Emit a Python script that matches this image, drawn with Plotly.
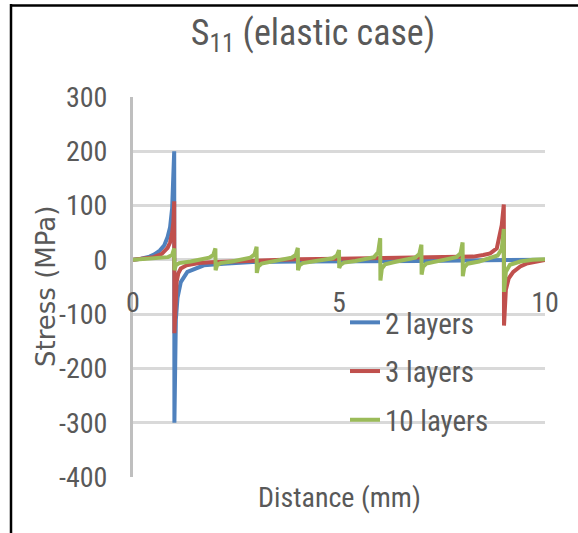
import plotly.graph_objects as go

# ---- data ----
x_2 = [0, 0.2, 0.4, 0.52, 0.65, 0.76, 0.84, 0.9, 0.95, 0.98, 1.0, 1.005, 1.04, 1.08, 1.16, 1.32, 1.72, 2.2, 2.9, 4, 5, 6, 7, 8, 9, 10]
y_2 = [0, 2, 6, 10, 17, 27, 42, 60, 95, 140, 200, -300, -110, -70, -41, -22, -10, -7, -4, -3, -3, -2, -2, -1, -1, 0]

x_3 = [0, 0.3, 0.5, 0.7, 0.84, 0.9, 0.95, 0.98, 1.0, 1.005, 1.03, 1.06, 1.1, 1.16, 1.3, 1.6, 2, 3, 4, 5, 6, 7, 8, 8.26, 8.5, 8.67, 8.83, 8.95, 9.0, 9.005, 9.05, 9.12, 9.23, 9.4, 9.55, 9.85, 10]
y_3 = [0, 2, 5, 11, 22, 32, 50, 70, 108, -135, -75, -40, -25, -16, -10, -6, -4, -1, 1, 2, 3, 4, 5, 6, 9, 12, 21, 64, 102, -121, -55, -34, -22, -12, -7, -2, 0]

x_10 = [0, 0.5, 0.85, 0.95, 1.0, 1.005, 1.04, 1.12, 1.4,
        1.85, 1.95, 2.0, 2.005, 2.04, 2.12, 2.4,
        2.85, 2.95, 3.0, 3.005, 3.04, 3.12, 3.4,
        3.85, 3.95, 4.0, 4.005, 4.04, 4.12, 4.4,
        4.85, 4.95, 5.0, 5.005, 5.04, 5.12, 5.4,
        5.85, 5.95, 6.0, 6.005, 6.04, 6.12, 6.4,
        6.85, 6.95, 7.0, 7.005, 7.04, 7.12, 7.4,
        7.85, 7.95, 8.0, 8.005, 8.04, 8.12, 8.4,
        8.85, 8.95, 9.0, 9.005, 9.05, 9.15, 9.4, 9.7, 10]
y_10 = [0, 2, 5, 9, 21, -19, -10, -6, -3,
        4, 9, 21, -19, -10, -6, -3,
        4, 10, 24, -24, -12, -7, -3,
        4, 9, 22, -19, -10, -6, -3,
        3, 8, 18, -15, -9, -5, -2,
        5, 14, 40, -38, -16, -8, -3,
        4, 11, 28, -27, -13, -7, -3,
        5, 12, 32, -30, -14, -7, -3,
        8, 20, 57, -59, -22, -9, -3, 0, 1]

series_names = ["2 layers", "3 layers", "10 layers"]
series_colors = ["#4F81BD", "#C0504D", "#9BBB59"]
y_ticks = [300, 200, 100, 0, -100, -200, -300, -400]
y_ticklabels = ["300", "200", "100", "0", "-100", "-200", "-300", "-400"]
x_ticks = [0, 5, 10]
x_ticklabels = ["0", "5", "10"]

TXT = "#595959"
NARROW = "Roboto Condensed, Roboto, sans-serif"

fig = go.Figure()
for name, xs, ys, col in zip(series_names, [x_2, x_3, x_10], [y_2, y_3, y_10], series_colors):
    fig.add_trace(go.Scatter(x=xs, y=ys, mode="lines", name=name, legendgroup=name,
                             line=dict(color=col, width=4), showlegend=True))

W, H = 578, 533
L, R, T, B = 133, 33, 97, 56
pw = W - L - R
ph = H - T - B

def px_x(p):
    return (p - L) / pw

def px_y(p):
    return (H - B - p) / ph

fig.update_layout(
    width=W, height=H,
    margin=dict(l=L, r=R, t=T, b=B),
    paper_bgcolor="white", plot_bgcolor="white",
    title=dict(text="S<sub>11</sub> (elastic case)", x=313 / W, xanchor="center",
               xref="container", y=1 - 32 / H, yanchor="middle", yref="container",
               font=dict(family=NARROW, size=36, color=TXT)),
    xaxis=dict(range=[0, 10], tickvals=x_ticks, ticktext=x_ticklabels, showgrid=False, zeroline=False,
               showline=False, anchor="free", position=4 / 7, ticks="",
               ticklabelstandoff=23,
               tickfont=dict(family=NARROW, size=28, color=TXT)),
    yaxis=dict(range=[-400, 300], tickvals=y_ticks, ticktext=y_ticklabels, showgrid=True, gridcolor="#D9D9D9",
               gridwidth=2.5, zeroline=True, zerolinecolor="#D9D9D9", zerolinewidth=2.5,
               showline=True, linecolor="#BFBFBF", linewidth=3, ticks="",
               ticklabelstandoff=17,
               tickfont=dict(family=NARROW, size=28, color=TXT)),
    legend=dict(x=px_x(345), y=px_y(297), xanchor="left", yanchor="top",
                bgcolor="rgba(0,0,0,0)", tracegroupgap=8,
                font=dict(family=NARROW, size=29, color=TXT)),
    showlegend=True,
    annotations=[
        dict(text="Distance (mm)", x=0.5, y=px_y(497), xref="paper", yref="paper",
             showarrow=False, xanchor="center", yanchor="middle",
             font=dict(family=NARROW, size=28, color=TXT)),
        dict(text="Stress (MPa)", x=px_x(46), y=px_y(287), xref="paper", yref="paper",
             showarrow=False, xanchor="center", yanchor="middle", textangle=-90,
             font=dict(family="DejaVu Sans", size=26, color=TXT)),
    ],
    shapes=[
        dict(type="line", xref="paper", yref="paper", x0=px_x(11), x1=px_x(11),
             y0=px_y(4), y1=px_y(540), line=dict(color="black", width=2.5)),
        dict(type="line", xref="paper", yref="paper", x0=px_x(10), x1=px_x(590),
             y0=px_y(5.5), y1=px_y(5.5), line=dict(color="black", width=2.5)),
    ],
)

fig.write_html("out.html", config={"displayModeBar": False},
               post_script="document.body.style.margin='0px';")
